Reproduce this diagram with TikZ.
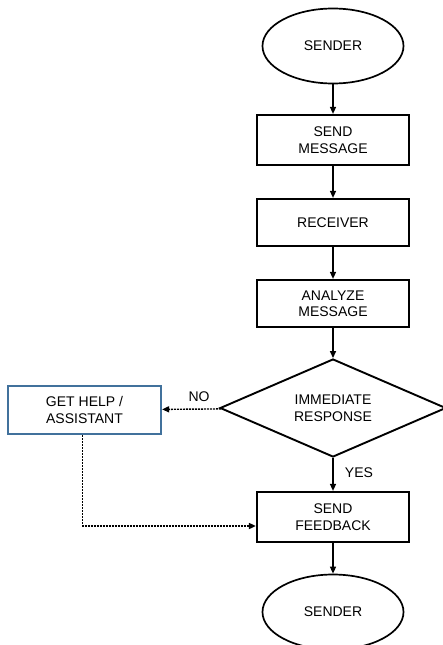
\documentclass[tikz,border=0pt]{standalone}
\usepackage{fontspec}
\setmainfont{Liberation Sans}
\usepackage{tikz}
\usetikzlibrary{arrows.meta,shapes.geometric}
\definecolor{helpblue}{RGB}{65,113,156}

\begin{document}
\begin{tikzpicture}[x=1pt,y=-1pt]
	\useasboundingbox (0,0) rectangle (443,645);
	\begin{scope}[every node/.style = {draw, line width=2.2pt, align=center, inner sep=0pt,
			font=\fontsize{14}{16.5}\selectfont},
		stepbox/.style = {rectangle, minimum width=152pt, minimum height=48pt},
		endbox/.style = {ellipse, line width=1.7pt, minimum width=141pt, minimum height=75pt}]
		\node[endbox] (S1) at (333,46) {SENDER};
		\node[stepbox, minimum height=50pt] (SM) at (333,140) {SEND\\MESSAGE};
		\node[stepbox, minimum height=47pt] (RC) at (333,222.5) {RECEIVER};
		\node[stepbox, minimum height=47pt] (AM) at (333,303.5) {ANALYZE\\MESSAGE};
		\node[diamond, line width=1.9pt, aspect=2.3, minimum width=226pt, minimum height=98pt] (IR) at (333,408) {IMMEDIATE\\RESPONSE};
		\node[stepbox, draw=helpblue, minimum width=153pt] (GH) at (84.5,410) {GET HELP /\\ASSISTANT};
		\node[stepbox, minimum height=50pt] (SF) at (333,517) {SEND\\FEEDBACK};
		\node[endbox] (S2) at (333,612) {SENDER};
	\end{scope}
	\begin{scope}[>={Triangle[length=7pt,width=6pt]},
			every edge/.style={draw=black, line width=1.4pt},
			every node/.style={font=\fontsize{14}{16.5}\selectfont}]
		\path [->] (S1) edge (SM);
		\path [->] (SM) edge (RC);
		\path [->] (RC) edge (AM);
		\path [->] (AM) edge (IR);
		\path [->] (IR) edge (SF);
		\path [->] (SF) edge (S2);
		\path [->, dash pattern=on 2pt off 1pt] (IR) edge (GH);
		\draw [->, line width=1.6pt, dash pattern=on 2pt off 1pt] ([xshift=-2pt]GH.south) |- ([yshift=-9pt]SF.west);
		\node (no) at (199,397) {NO};
		\node (yes) at (359,473) {YES};
	\end{scope}
\end{tikzpicture}
\end{document}
